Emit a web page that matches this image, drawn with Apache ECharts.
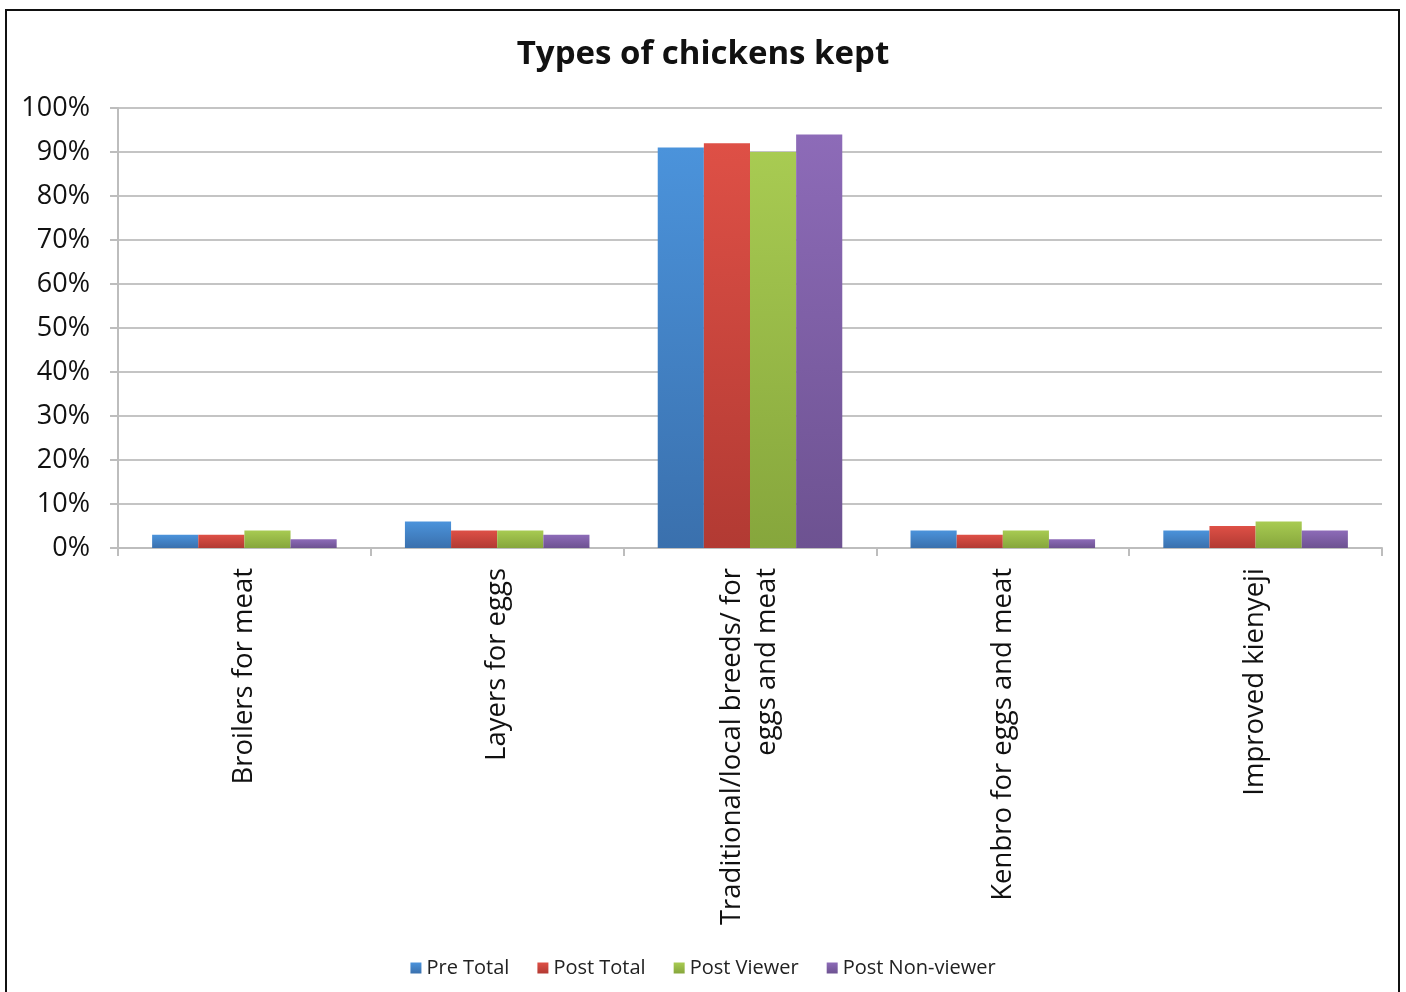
<!DOCTYPE html>
<html>
<head>
<meta charset="utf-8">
<script src="https://cdn.jsdelivr.net/npm/echarts@6/dist/echarts.min.js"></script>
<style>
    html, body { margin: 0; padding: 0; background: #fff; }
    #frame { position: absolute; left: 5px; top: 9px; width: 1395px; height: 1000px; border: 2px solid #111; box-sizing: border-box; }
    #main { position: absolute; left: 0; top: 0; width: 1406px; height: 992px; }
</style>
</head>
<body>
<div id="frame"></div>
<div id="main"></div>
<script>
    // 类别
    const categories = ['Broilers for meat', 'Layers for eggs', 'Traditional/local breeds/ for\neggs and meat', 'Kenbro for eggs and meat', 'Improved kienyeji'];
    // 各系列数值（%）
    const preTotal = [3, 6, 91, 4, 4];
    const postTotal = [3, 4, 92, 3, 5];
    const postViewer = [4, 4, 90, 4, 6];
    const postNonViewer = [2, 3, 94, 2, 4];
    const seriesNames = ['Pre Total', 'Post Total', 'Post Viewer', 'Post Non-viewer'];
    const yTicks = [0, 10, 20, 30, 40, 50, 60, 70, 80, 90, 100];

    const colors = [
        ['#4b93db', '#3a70ad'],
        ['#de5046', '#b23a33'],
        ['#a8cb52', '#86a63c'],
        ['#8d6bb8', '#6d5291']
    ];

    function grad(c) {
        return new echarts.graphic.LinearGradient(0, 0, 0, 1, [
            {offset: 0, color: c[0]},
            {offset: 1, color: c[1]}
        ]);
    }

    let myChart = echarts.init(document.getElementById('main'));
    const dataList = [preTotal, postTotal, postViewer, postNonViewer];

    myChart.setOption({
        title: {
            text: 'Types of chickens kept',
            left: 'center',
            top: 33,
            textStyle: {fontFamily: 'Open Sans', fontSize: 33, fontWeight: 'bold', color: '#111'}
        },
        legend: {
            bottom: 9,
            left: 'center',
            itemWidth: 11,
            itemHeight: 11,
            itemGap: 28,
            icon: 'rect',
            textStyle: {fontFamily: 'Open Sans', fontSize: 20, color: '#222'},
            data: seriesNames
        },
        grid: {
            left: 118,
            right: 24,
            top: 108,
            bottom: 444
        },
        xAxis: {
            type: 'category',
            data: categories,
            axisLine: {lineStyle: {color: '#bdbdbd', width: 2}},
            axisTick: {show: true, length: 8, lineStyle: {color: '#bdbdbd', width: 2}},
            axisLabel: {
                rotate: 90,
                interval: 0,
                margin: 20,
                fontFamily: 'Open Sans',
                fontSize: 27.5,
                color: '#111',
                lineHeight: 35,
                align: 'right'
            }
        },
        yAxis: {
            type: 'value',
            min: yTicks[0],
            max: yTicks[yTicks.length - 1],
            interval: 10,
            axisLine: {show: true, lineStyle: {color: '#bdbdbd', width: 2}},
            axisTick: {show: true, length: 8, lineStyle: {color: '#bdbdbd', width: 2}},
            splitLine: {lineStyle: {color: '#c4c4c4', width: 2}},
            axisLabel: {
                formatter: '{value}%',
                margin: 28,
                fontFamily: 'Open Sans',
                fontSize: 27,
                color: '#111',
                padding: [12, 0, 0, 0]
            }
        },
        series: seriesNames.map(function (name, i) {
            return {
                name: name,
                type: 'bar',
                barGap: '0%',
                barCategoryGap: '27%',
                itemStyle: {color: grad(colors[i])},
                data: dataList[i]
            };
        })
    });
</script>
</body>
</html>
